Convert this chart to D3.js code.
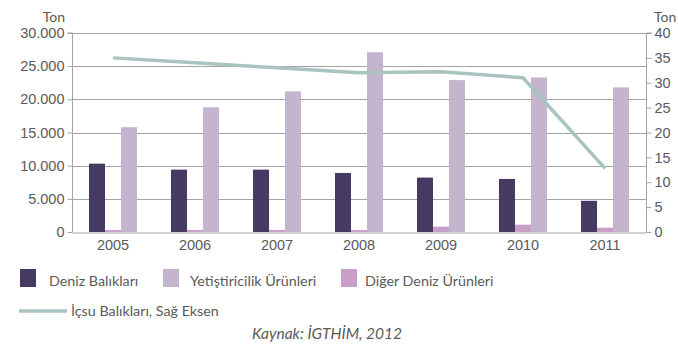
<!DOCTYPE html>
<html>
<head>
<meta charset="utf-8">
<script src="https://cdn.jsdelivr.net/npm/d3@7"></script>
<style>
  html, body { margin: 0; padding: 0; background: #fff; }
  svg { display: block; font-family: Lato, "Open Sans", sans-serif; }
</style>
</head>
<body>
<svg id="chart" width="678" height="344"></svg>
<script>
// Yıllar ve seriler (ton)
const years = ["2005", "2006", "2007", "2008", "2009", "2010", "2011"];
const denizBaliklari = [10300, 9400, 9400, 8900, 8200, 8000, 4700];
const digerDenizUrunleri = [300, 300, 300, 300, 800, 1100, 650];
const yetistiricilik = [15800, 18800, 21200, 27100, 22900, 23300, 21800];
const icsuBaliklari = [35, 34, 33, 32, 32.2, 31, 12.8]; // sağ eksen
const leftTicks = [0, 5000, 10000, 15000, 20000, 25000, 30000];
const rightTicks = [0, 5, 10, 15, 20, 25, 30, 35, 40];

const seriesNames = ["Deniz Balıkları", "Yetiştiricilik Ürünleri", "Diğer Deniz Ürünleri"];
const lineName = "İçsu Balıkları, Sağ Eksen";
const sourceText = "Kaynak: İGTHİM, 2012";

const colors = {
  deniz: "#463a62",
  yetis: "#c4b4ce",
  diger: "#c89fc9",
  line: "#a8c4c0",
  grid: "#a3a3a3",
  text: "#5a5a5a"
};

const svg = d3.select("#chart");
const m = { left: 72, right: 646, top: 33, bottom: 232 };

const x = d3.scaleBand().domain(years).range([m.left, m.right]).paddingInner(0).paddingOuter(0);
const yL = d3.scaleLinear().domain([0, 30000]).range([m.bottom, m.top]);
const yR = d3.scaleLinear().domain([0, 40]).range([m.bottom, m.top]);

const fmt = d3.formatLocale({ decimal: ",", thousands: ".", grouping: [3], currency: ["", ""] }).format(",");

// yatay ızgara
svg.append("g").selectAll("line").data(leftTicks.slice(1)).join("line")
  .attr("x1", m.left).attr("x2", m.right)
  .attr("y1", d => Math.round(yL(d)) + 0.5).attr("y2", d => Math.round(yL(d)) + 0.5)
  .attr("stroke", colors.grid).attr("stroke-width", 1);

// çubuklar: sırayla Deniz, Diğer, Yetiştiricilik
const barW = 16;
const groups = [
  { vals: denizBaliklari, color: colors.deniz, off: -24 },
  { vals: digerDenizUrunleri, color: colors.diger, off: -8 },
  { vals: yetistiricilik, color: colors.yetis, off: 8 }
];
groups.forEach(g => {
  svg.append("g").selectAll("rect").data(years).join("rect")
    .attr("x", (d, i) => x(d) + x.bandwidth() / 2 + g.off)
    .attr("width", barW)
    .attr("y", (d, i) => yL(g.vals[i]))
    .attr("height", (d, i) => yL(0) - yL(g.vals[i]))
    .attr("fill", g.color);
});

// sol eksen
const axL = svg.append("g").attr("transform", `translate(${m.left + 0.5},0)`)
  .call(d3.axisLeft(yL).tickValues(leftTicks).tickFormat(fmt).tickSize(5).tickPadding(3));
// sağ eksen
const axR = svg.append("g").attr("transform", `translate(${m.right + 0.5},0)`)
  .call(d3.axisRight(yR).tickValues(rightTicks).tickSize(5).tickPadding(3));
// alt eksen
const axB = svg.append("g").attr("transform", `translate(0,${m.bottom + 0.5})`)
  .call(d3.axisBottom(x).tickSize(0).tickPadding(7));

[axL, axR, axB].forEach(a => {
  a.select(".domain").attr("stroke", colors.grid);
  a.selectAll(".tick line").attr("stroke", colors.grid);
  a.selectAll("text").attr("fill", colors.text).style("font-size", "14.5px");
});
axR.selectAll(".tick text").attr("y", 0);
// eksen çizgileri
axL.select(".domain").attr("d", `M-5,${m.top}H0V${m.bottom}`);
axR.select(".domain").attr("d", `M5,${m.top}H0V${m.bottom}`);

// birim etiketleri
svg.append("text").attr("x", 65).attr("y", 22).attr("text-anchor", "end")
  .attr("fill", colors.text).style("font-size", "14px").text("Ton");
svg.append("text").attr("x", 654).attr("y", 22)
  .attr("fill", colors.text).style("font-size", "14px").text("Ton");

// iç su çizgisi
const line = d3.line()
  .x((d, i) => x(years[i]) + x.bandwidth() / 2)
  .y(d => yR(d));
svg.append("path").datum(icsuBaliklari)
  .attr("d", line).attr("fill", "none")
  .attr("stroke", colors.line).attr("stroke-width", 3.5)
  .attr("stroke-linejoin", "round");

// lejant
const legend = svg.append("g").style("font-size", "14.3px").attr("fill", colors.text);
const legItems = [
  { name: seriesNames[0], color: colors.deniz, sx: 20, tx: 49 },
  { name: seriesNames[1], color: colors.yetis, sx: 163, tx: 190 },
  { name: seriesNames[2], color: colors.diger, sx: 341, tx: 365 }
];
legItems.forEach(it => {
  legend.append("rect").attr("x", it.sx).attr("y", 269).attr("width", 16).attr("height", 18).attr("fill", it.color);
  legend.append("text").attr("x", it.tx).attr("y", 286).text(it.name);
});
legend.append("line").attr("x1", 19).attr("x2", 67).attr("y1", 311).attr("y2", 311)
  .attr("stroke", colors.line).attr("stroke-width", 3.5);
legend.append("text").attr("x", 71).attr("y", 316).text(lineName);

// kaynak
svg.append("text").attr("x", 327).attr("y", 339).attr("text-anchor", "middle")
  .attr("fill", colors.text).style("font-size", "15.5px").style("font-style", "italic")
  .text(sourceText);
</script>
</body>
</html>
